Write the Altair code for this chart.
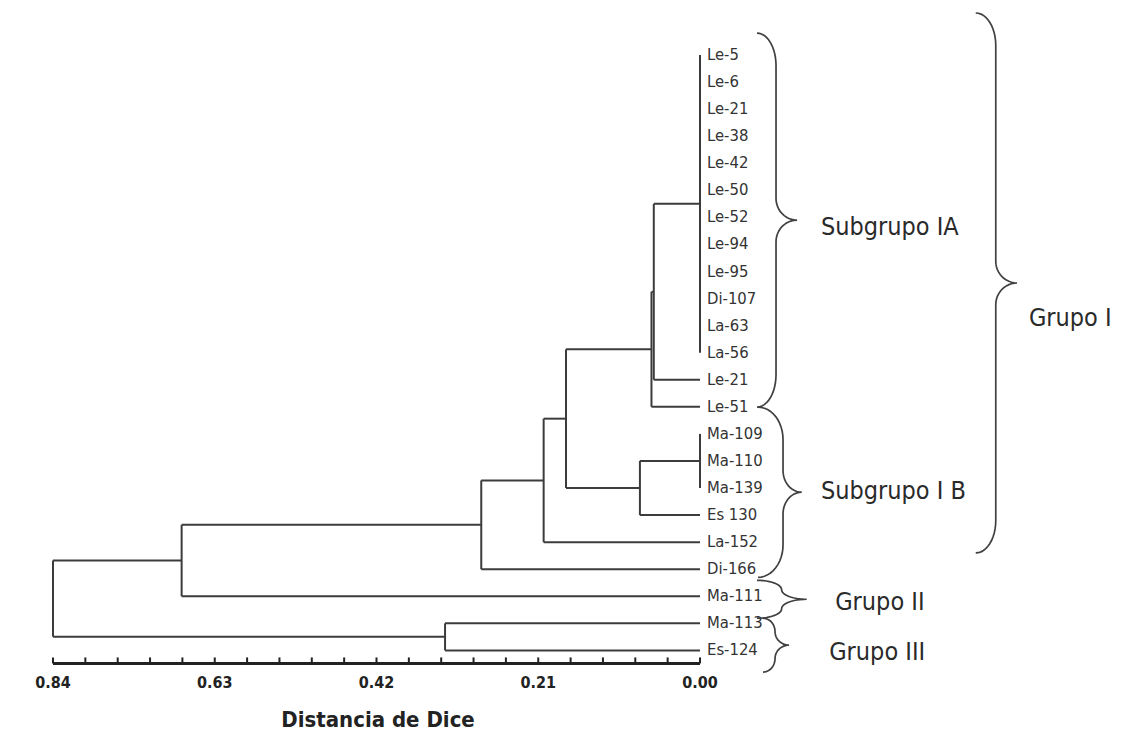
import math
import altair as alt
import pandas as pd

# ---------------- data ----------------
leaves = ["Le-5", "Le-6", "Le-21", "Le-38", "Le-42", "Le-50", "Le-52", "Le-94",
          "Le-95", "Di-107", "La-63", "La-56", "Le-21", "Le-51", "Ma-109",
          "Ma-110", "Ma-139", "Es 130", "La-152", "Di-166", "Ma-111", "Ma-113",
          "Es-124"]

# merges: children (L = leaf index, N = merge index) and Dice distance
merge_children = [
    ["L0", "L1", "L2", "L3", "L4", "L5", "L6", "L7", "L8", "L9", "L10", "L11"],
    ["N0", "L12"],
    ["N1", "L13"],
    ["L14", "L15", "L16"],
    ["N3", "L17"],
    ["N2", "N4"],
    ["N5", "L18"],
    ["N6", "L19"],
    ["N7", "L20"],
    ["L21", "L22"],
    ["N8", "N9"],
]
merge_heights = [0.0, 0.060, 0.063, 0.0, 0.078, 0.174, 0.203, 0.284, 0.673, 0.331, 0.84]

tick_values = [0.84, 0.798, 0.756, 0.714, 0.672, 0.63, 0.588, 0.546, 0.504, 0.462,
               0.42, 0.378, 0.336, 0.294, 0.252, 0.21, 0.168, 0.126, 0.084, 0.042, 0.0]
tick_label_values = [0.84, 0.63, 0.42, 0.21, 0.0]
tick_labels = ["0.84", "0.63", "0.42", "0.21", "0.00"]
axis_title = "Distancia de Dice"

group_names = ["Subgrupo IA", "Subgrupo I B", "Grupo I", "Grupo II", "Grupo III"]

# ---------------- layout (annotation placement in data units) ----------------
FONT = "DejaVu Sans Condensed, Liberation Sans Narrow, Arial Narrow, sans-serif"
LINE = "#3c3c3c"
AXIS_Y = 22.48
TICK_TOP = 22.26
TICK_LABEL_Y = 23.21
TITLE_Y = 24.58
TITLE_X = 0.418

group_label_x = [-0.157, -0.157, -0.427, -0.1755, -0.1677]
group_label_y = [6.35, 16.1, 9.72, 20.2, 22.06]
# braces: y_top, y_bottom, x_end, x_spine, x_tip
braces = [
    (-0.81, 13.01, -0.074, -0.0987, -0.126),
    (13.01, 19.30, -0.0753, -0.1078, -0.132),
    (-1.553, 18.40, -0.358, -0.384, -0.4116),
    (19.41, 20.81, -0.074, -0.106, -0.1385),
    (20.81, 22.80, -0.0818, -0.0974, -0.1156),
]

# ---------------- build dendrogram segments ----------------
pos = {}
hgt = {}
for i, _ in enumerate(leaves):
    pos[f"L{i}"] = float(i)
    hgt[f"L{i}"] = 0.0

segs = []
for k, (children, h) in enumerate(zip(merge_children, merge_heights)):
    ys = [pos[c] for c in children]
    for c in children:
        if hgt[c] < h:
            segs.append({"x": hgt[c], "x2": h, "y": pos[c], "y2": pos[c]})
    segs.append({"x": h, "x2": h, "y": min(ys), "y2": max(ys)})
    pos[f"N{k}"] = (ys[0] + ys[-1]) / 2.0
    hgt[f"N{k}"] = h
seg_df = pd.DataFrame(segs)

leaf_df = pd.DataFrame({"name": leaves, "idx": list(range(len(leaves))), "x": 0.0})

# braces
pts = []
n = 12
for b, (yt, yb, xe, xs, xt) in enumerate(braces):
    span = yb - yt
    r = min(1.2, span / 4.0)
    r2 = min(0.8, span / 4.0)
    ym = (yt + yb) / 2.0
    seq = []
    for j in range(n + 1):
        t = math.pi / 2 * j / n
        seq.append((xe + (xs - xe) * math.sin(t), yt + r * (1 - math.cos(t))))
    for j in range(n + 1):
        t = math.pi / 2 * j / n
        seq.append((xs + (xt - xs) * (1 - math.cos(t)), ym - r2 + r2 * math.sin(t)))
    for j in range(n + 1):
        t = math.pi / 2 * j / n
        seq.append((xs + (xt - xs) * (1 - math.sin(t)), ym + r2 * (1 - math.cos(t))))
    for j in range(n + 1):
        t = math.pi / 2 * j / n
        seq.append((xs + (xe - xs) * (1 - math.cos(t)), yb - r + r * math.sin(t)))
    for k, (px, py) in enumerate(seq):
        pts.append({"brace": b, "k": k, "x": px, "y": py})
brace_df = pd.DataFrame(pts)

group_df = pd.DataFrame({"text": group_names, "x": group_label_x, "y": group_label_y})
tick_df = pd.DataFrame({"v": tick_values, "y": AXIS_Y, "y2": TICK_TOP})
ticklab_df = pd.DataFrame({"v": tick_label_values, "label": tick_labels, "y": TICK_LABEL_Y})
base_df = pd.DataFrame({"x": [tick_values[0]], "x2": [tick_values[-1]], "y": [AXIS_Y]})
title_df = pd.DataFrame({"text": [axis_title], "x": [TITLE_X], "y": [TITLE_Y]})

# ---------------- scales ----------------
xs_ = alt.Scale(domain=[-0.5375, 0.84], reverse=True, nice=False, zero=False)
ys_ = alt.Scale(domain=[-1.7, 25.2], reverse=True, nice=False, zero=False)

def X(f):
    return alt.X(f, type="quantitative", scale=xs_, axis=None)

def Y(f):
    return alt.Y(f, type="quantitative", scale=ys_, axis=None)

tree = alt.Chart(seg_df).mark_rule(color=LINE, strokeWidth=2).encode(
    x=X("x"), x2="x2", y=Y("y"), y2="y2")

labels = alt.Chart(leaf_df).mark_text(
    align="left", baseline="middle", dx=7, font=FONT, fontSize=16.5, color="#333333"
).encode(x=X("x"), y=Y("idx"), text="name:N")

brace_lines = alt.Chart(brace_df).mark_line(color="#404040", strokeWidth=1.7).encode(
    x=X("x"), y=Y("y"), detail="brace:N", order="k:Q")

groups = alt.Chart(group_df).mark_text(
    align="left", baseline="middle", font=FONT, fontSize=25, color="#2a2a2a"
).encode(x=X("x"), y=Y("y"), text="text:N")

baseline = alt.Chart(base_df).mark_rule(color="#222222", strokeWidth=3).encode(
    x=X("x"), x2="x2", y=Y("y"))

ticks = alt.Chart(tick_df).mark_rule(color="#222222", strokeWidth=2).encode(
    x=X("v"), y=Y("y"), y2="y2")

ticklabels = alt.Chart(ticklab_df).mark_text(
    align="center", baseline="middle", font=FONT, fontSize=16, fontWeight="bold",
    color="#222222"
).encode(x=X("v"), y=Y("y"), text="label:N")

title = alt.Chart(title_df).mark_text(
    align="center", baseline="middle", font=FONT, fontSize=22, fontWeight="bold",
    color="#222222"
).encode(x=X("x"), y=Y("y"), text="text:N")

chart = alt.layer(
    tree, labels, brace_lines, groups, baseline, ticks, ticklabels, title
).properties(
    width=1061, height=728,
    autosize=alt.AutoSizeParams(type="none"),
    padding={"left": 45, "top": 1, "right": 0, "bottom": 0},
    background="white",
).configure_view(stroke=None)

chart.save("out.html", embed_options={"renderer": "svg", "actions": False})
